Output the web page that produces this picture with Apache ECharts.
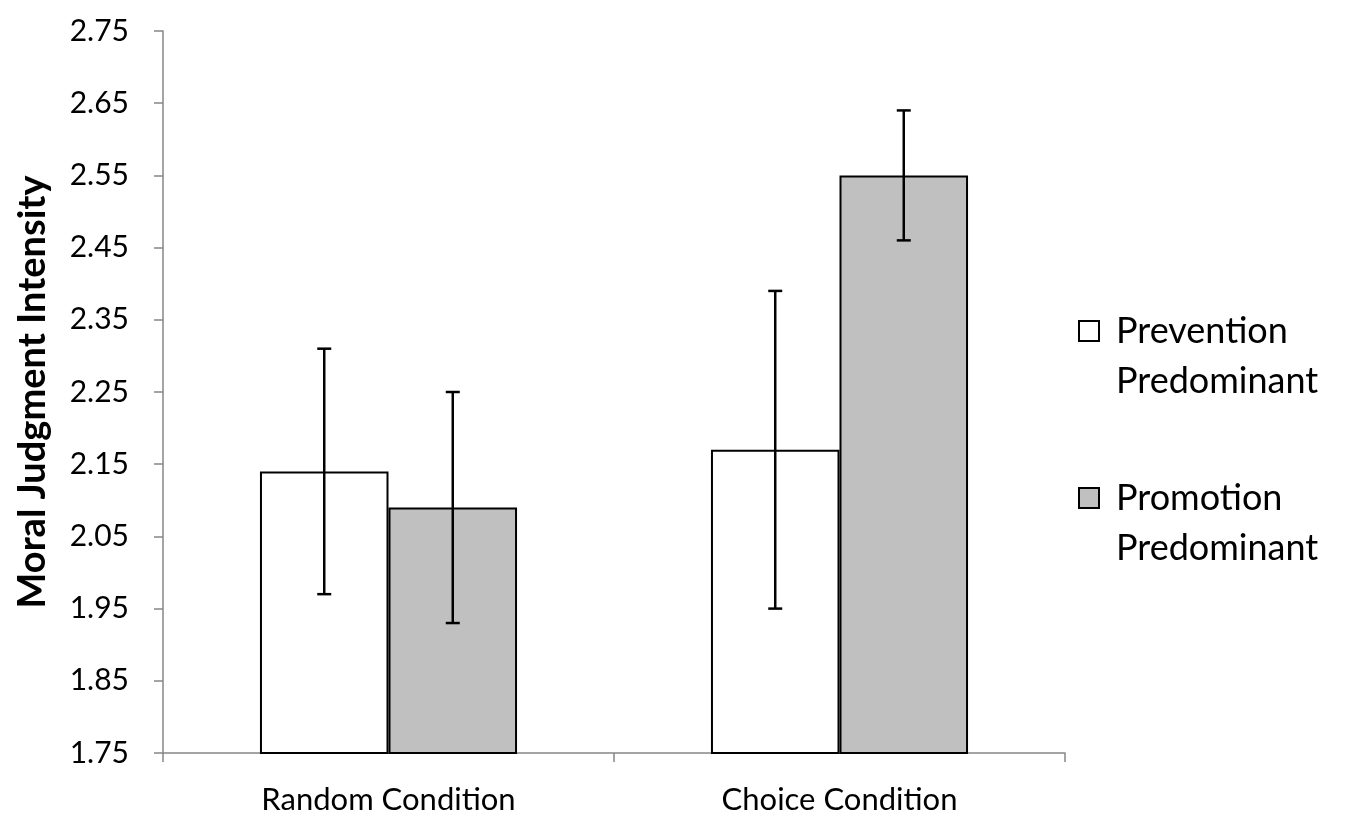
<!doctype html>
<html>
<head>
    <meta charset="utf-8">
    <title>Moral Judgment Intensity</title>
    <style>
        html, body { margin: 0; width: 100%; height: 100%; background: #fff; }
        #chart { width: 1350px; height: 819px; }
    </style>
</head>
<body>
<div id="chart"></div>
<script src="https://cdn.jsdelivr.net/npm/echarts@6/dist/echarts.min.js"></script>
<script>
    // data
    var categories = ['Random Condition', 'Choice Condition'];
    var seriesNames = ['Prevention Predominant', 'Promotion Predominant'];
    var preventionMeans = [2.14, 2.17];
    var promotionMeans = [2.09, 2.55];
    var preventionLow = [1.97, 1.95];
    var preventionHigh = [2.31, 2.39];
    var promotionLow = [1.93, 2.46];
    var promotionHigh = [2.25, 2.64];
    var yTicks = [1.75, 1.85, 1.95, 2.05, 2.15, 2.25, 2.35, 2.45, 2.55, 2.65, 2.75];

    var GAP = 0.43; // barCategoryGap
    var FONT = 'Lato';

    // error bar rows: [category index, low, high, series index]
    var errData = [];
    categories.forEach(function (c, i) {
        errData.push([i, preventionLow[i], preventionHigh[i], 0]);
        errData.push([i, promotionLow[i], promotionHigh[i], 1]);
    });

    function renderErr(params, api) {
        var idx = api.value(0);
        var s = api.value(3);
        var band = api.size([1, 0])[0];
        var barW = band * (1 - GAP) / 2;
        var cx = api.coord([idx, 0])[0] + (s === 0 ? -barW / 2 : barW / 2);
        var yLo = api.coord([idx, api.value(1)])[1];
        var yHi = api.coord([idx, api.value(2)])[1];
        var cap = 7;
        var st = { stroke: '#000', lineWidth: 2.5 };
        return {
            type: 'group',
            children: [
                { type: 'line', shape: { x1: cx, y1: yLo, x2: cx, y2: yHi }, style: st },
                { type: 'line', shape: { x1: cx - cap, y1: yHi, x2: cx + cap, y2: yHi }, style: st },
                { type: 'line', shape: { x1: cx - cap, y1: yLo, x2: cx + cap, y2: yLo }, style: st }
            ]
        };
    }

    var chart = echarts.init(document.getElementById('chart'));
    var option = {
        backgroundColor: '#fff',
        animation: false,
        grid: { left: 163, right: 285, top: 31, bottom: 66, containLabel: false },
        legend: {
            data: seriesNames,
            orient: 'vertical',
            left: 1078,
            top: 276,
            padding: 0,
            icon: 'rect',
            itemWidth: 20,
            itemHeight: 20,
            itemGap: 44,
            // empty first line pushes the two text lines down so the box sits beside line one
            formatter: function (name) {
                var w = name.split(' ');
                return '{s| }\n{t|' + w[0] + '}\n{t|' + w[1] + '}';
            },
            textStyle: {
                fontFamily: FONT, fontSize: 36, color: '#000',
                rich: {
                    s: { lineHeight: 50, fontSize: 10 },
                    t: { fontFamily: FONT, fontSize: 36, color: '#000', lineHeight: 50, padding: [0, 0, 0, 12] }
                }
            }
        },
        xAxis: {
            type: 'category',
            data: categories,
            axisLine: { lineStyle: { color: '#868686', width: 1.5 } },
            axisTick: { show: true, length: 9, lineStyle: { color: '#868686', width: 1.5 } },
            axisLabel: { fontFamily: FONT, fontSize: 31, color: '#000', margin: 31 }
        },
        yAxis: {
            type: 'value',
            min: 1.75,
            max: 2.75,
            interval: 0.05,
            name: 'Moral Judgment Intensity',
            nameLocation: 'middle',
            nameGap: 111,
            nameTextStyle: { fontFamily: FONT, fontSize: 38, fontWeight: 'bold', color: '#000' },
            splitLine: { show: false },
            axisLine: { show: true, lineStyle: { color: '#868686', width: 1.5 } },
            axisTick: { show: true, length: 9, customValues: yTicks, lineStyle: { color: '#868686', width: 1.5 } },
            axisLabel: {
                fontFamily: FONT, fontSize: 30, color: '#000', margin: 34,
                customValues: yTicks,
                formatter: function (v) { return v.toFixed(2); }
            }
        },
        series: [
            {
                name: seriesNames[0],
                type: 'bar',
                data: preventionMeans,
                barGap: 0,
                barCategoryGap: (GAP * 100) + '%',
                itemStyle: { color: '#ffffff', borderColor: '#000', borderWidth: 2 }
            },
            {
                name: seriesNames[1],
                type: 'bar',
                data: promotionMeans,
                barGap: 0,
                barCategoryGap: (GAP * 100) + '%',
                itemStyle: { color: '#c0c0c0', borderColor: '#000', borderWidth: 2 }
            },
            {
                type: 'custom',
                name: 'error',
                data: errData,
                encode: { x: 0, y: [1, 2] },
                renderItem: renderErr,
                z: 10
            }
        ]
    };
    chart.setOption(option);
</script>
</body>
</html>
